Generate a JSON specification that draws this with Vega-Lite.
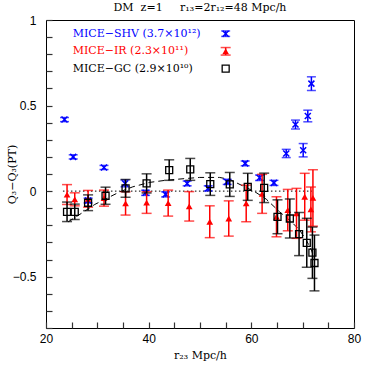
{
  "$schema": "https://vega.github.io/schema/vega-lite/v6.json",
  "width": 308,
  "height": 308,
  "autosize": {"type": "none"},
  "padding": {"left": 46, "top": 20, "right": 20, "bottom": 46},
  "background": "white",
  "title": {"text": "DM\u00a0\u00a0z=1\u00a0\u00a0\u00a0\u00a0\u00a0r₁₃=2r₁₂=48 Mpc/h", "font": "DejaVu Serif", "fontSize": 11, "fontWeight": "normal", "color": "black", "anchor": "middle", "offset": 1},
  "config": {"view": {"stroke": "black", "strokeWidth": 1}},
  "datasets": {
    "shv": [
      {"x": 23.6, "y": 0.418, "e": 0.012}, {"x": 25.3, "y": 0.2, "e": 0.012}, {"x": 28.2, "y": -0.055, "e": 0.014},
      {"x": 31.3, "y": 0.138, "e": 0.012}, {"x": 35.4, "y": 0.045, "e": 0.02}, {"x": 39.4, "y": -0.01, "e": 0.015},
      {"x": 43.3, "y": -0.019, "e": 0.015}, {"x": 47.5, "y": 0.045, "e": 0.014}, {"x": 51.6, "y": 0.016, "e": 0.015},
      {"x": 55.3, "y": 0.054, "e": 0.015}, {"x": 58.8, "y": 0.162, "e": 0.014}, {"x": 61.6, "y": 0.078, "e": 0.016},
      {"x": 64.4, "y": 0.048, "e": 0.015}, {"x": 66.8, "y": 0.22, "e": 0.024}, {"x": 68.6, "y": 0.389, "e": 0.026},
      {"x": 70.1, "y": 0.239, "e": 0.039}, {"x": 71.0, "y": 0.439, "e": 0.034}, {"x": 71.7, "y": 0.628, "e": 0.04}
    ],
    "ir": [
      {"x": 24.1, "y": -0.02, "e": 0.058}, {"x": 25.6, "y": -0.048, "e": 0.038}, {"x": 28.2, "y": -0.045, "e": 0.049},
      {"x": 31.3, "y": -0.041, "e": 0.047}, {"x": 35.5, "y": -0.072, "e": 0.068}, {"x": 39.6, "y": -0.067, "e": 0.063},
      {"x": 43.8, "y": -0.07, "e": 0.076}, {"x": 47.9, "y": -0.089, "e": 0.086}, {"x": 51.9, "y": -0.179, "e": 0.093},
      {"x": 55.6, "y": -0.16, "e": 0.103}, {"x": 59.0, "y": -0.072, "e": 0.107}, {"x": 62.1, "y": -0.016, "e": 0.114},
      {"x": 64.9, "y": -0.15, "e": 0.117}, {"x": 67.1, "y": -0.111, "e": 0.121}, {"x": 68.8, "y": -0.13, "e": 0.146},
      {"x": 70.4, "y": -0.033, "e": 0.137}, {"x": 71.6, "y": -0.107, "e": 0.131}, {"x": 72.0, "y": -0.04, "e": 0.165}
    ],
    "gc": [
      {"x": 24.1, "y": -0.121, "e": 0.057}, {"x": 25.6, "y": -0.121, "e": 0.045}, {"x": 28.2, "y": -0.068, "e": 0.046},
      {"x": 31.6, "y": -0.027, "e": 0.05}, {"x": 35.5, "y": 0.016, "e": 0.052}, {"x": 39.6, "y": 0.045, "e": 0.056},
      {"x": 44.0, "y": 0.123, "e": 0.06}, {"x": 48.1, "y": 0.127, "e": 0.064}, {"x": 52.0, "y": 0.041, "e": 0.066},
      {"x": 55.8, "y": 0.039, "e": 0.07}, {"x": 59.3, "y": 0.025, "e": 0.079}, {"x": 62.5, "y": 0.019, "e": 0.086},
      {"x": 65.1, "y": -0.15, "e": 0.099}, {"x": 67.5, "y": -0.16, "e": 0.114}, {"x": 69.3, "y": -0.251, "e": 0.126},
      {"x": 70.8, "y": -0.302, "e": 0.143}, {"x": 71.9, "y": -0.36, "e": 0.15}, {"x": 72.3, "y": -0.42, "e": 0.163}
    ],
    "model": [
      {"x": 24.3, "y": -0.18}, {"x": 26.9, "y": -0.13}, {"x": 29.5, "y": -0.078}, {"x": 31.8, "y": -0.043},
      {"x": 34.4, "y": -0.004}, {"x": 36.9, "y": 0.025}, {"x": 40.2, "y": 0.051}, {"x": 43.5, "y": 0.064},
      {"x": 47.4, "y": 0.074}, {"x": 49.9, "y": 0.08}, {"x": 53.8, "y": 0.08}, {"x": 55.8, "y": 0.068},
      {"x": 58.7, "y": 0.025}, {"x": 60.7, "y": -0.004}, {"x": 62.9, "y": -0.047}, {"x": 65.5, "y": -0.121},
      {"x": 67.8, "y": -0.179}, {"x": 69.4, "y": -0.228}, {"x": 70.7, "y": -0.286}, {"x": 71.7, "y": -0.344},
      {"x": 72.2, "y": -0.39}
    ],
    "zero": [{"x": 23.3, "y": 0}, {"x": 71.8, "y": 0}],
    "legend": [
      {"label": "MICE−SHV (3.7×10¹²)", "s": "SHV", "x": 25.2, "y": 0.92},
      {"label": "MICE−IR (2.3×10¹¹)", "s": "IR", "x": 25.2, "y": 0.817},
      {"label": "MICE−GC (2.9×10¹⁰)", "s": "GC", "x": 25.2, "y": 0.716}
    ],
    "legshv": [{"x": 55.0, "y": 0.92, "e": 0.016}],
    "legir": [{"x": 55.0, "y": 0.817, "e": 0.022}],
    "leggc": [{"x": 55.0, "y": 0.716}]
  },
  "encoding": {
    "x": {"field": "x", "type": "quantitative", "scale": {"domain": [20, 80], "nice": false, "zero": false},
      "axis": {"orient": "bottom", "values": [20, 25, 30, 35, 40, 45, 50, 55, 60, 65, 70, 75, 80], "format": "d",
        "labelExpr": "datum.value % 20 === 0 ? datum.label : ''",
        "tickSize": -6, "labelPadding": 11, "labelOverlap": false, "labelFlush": false,
        "domain": false, "grid": false, "tickColor": "#333333", "tickWidth": 1.2,
        "labelFont": "Liberation Sans", "labelFontSize": 12, "labelColor": "black",
        "title": "r₂₃ Mpc/h", "titleFont": "DejaVu Serif", "titleFontSize": 11, "titleFontWeight": "normal", "titleColor": "black",
        "titleX": 154, "titleY": 27, "titleAlign": "center", "titleBaseline": "middle"}},
    "y": {"field": "y", "type": "quantitative", "scale": {"domain": [-0.8, 1], "nice": false, "zero": false},
      "axis": {"orient": "left", "values": [-0.8, -0.7, -0.6, -0.5, -0.4, -0.3, -0.2, -0.1, 0, 0.1, 0.2, 0.3, 0.4, 0.5, 0.6, 0.7, 0.8, 0.9, 1], "format": ".1~f",
        "labelExpr": "abs(datum.value*2 - round(datum.value*2)) < 0.001 ? datum.label : ''",
        "tickSize": -6, "labelPadding": 16, "labelOverlap": false, "labelFlush": false,
        "domain": false, "grid": false, "tickColor": "#333333", "tickWidth": 1.2,
        "labelFont": "Liberation Sans", "labelFontSize": 12, "labelColor": "black",
        "title": "Q₃−Q₃(PT)", "titleFont": "DejaVu Serif", "titleFontSize": 11, "titleFontWeight": "normal", "titleColor": "black",
        "titleX": -34, "titleY": 154, "titleAngle": 270, "titleAlign": "center", "titleBaseline": "middle"}}
  },
  "layer": [
    {
      "data": {"name": "zero"},
      "mark": {"type": "line", "color": "black", "strokeWidth": 1, "strokeDash": [1.5, 2.5]}
    },
    {
      "data": {"name": "model"},
      "mark": {"type": "line", "color": "black", "strokeWidth": 1, "strokeDash": [6, 4]}
    },
    {
      "data": {"name": "shv"},
      "mark": {"type": "errorbar", "ticks": {"size": 9}, "color": "blue", "thickness": 1.5},
      "encoding": {"yError": {"field": "e"}}
    },
    {
      "data": {"name": "shv"},
      "mark": {"type": "point", "shape": "M-1,-1L1,1M-1,1L1,-1", "filled": false, "color": "blue", "strokeWidth": 1.5, "size": 36, "opacity": 1}
    },
    {
      "data": {"name": "ir"},
      "mark": {"type": "errorbar", "ticks": {"size": 10}, "color": "red", "thickness": 1.5},
      "encoding": {"yError": {"field": "e"}}
    },
    {
      "data": {"name": "ir"},
      "mark": {"type": "point", "shape": "triangle-up", "filled": true, "color": "red", "size": 45, "opacity": 1}
    },
    {
      "data": {"name": "gc"},
      "mark": {"type": "errorbar", "ticks": {"size": 10}, "color": "black", "thickness": 1.5},
      "encoding": {"yError": {"field": "e"}}
    },
    {
      "data": {"name": "gc"},
      "mark": {"type": "point", "shape": "square", "filled": false, "color": "black", "strokeWidth": 1.3, "size": 49, "opacity": 1}
    },
    {
      "data": {"name": "legend"},
      "mark": {"type": "text", "align": "left", "baseline": "middle", "font": "DejaVu Serif", "fontSize": 11},
      "encoding": {
        "text": {"field": "label"},
        "color": {"field": "s", "type": "nominal", "scale": {"domain": ["SHV", "IR", "GC"], "range": ["blue", "red", "black"]}, "legend": null}
      }
    },
    {
      "data": {"name": "legshv"},
      "mark": {"type": "errorbar", "ticks": {"size": 9}, "color": "blue", "thickness": 1.5},
      "encoding": {"yError": {"field": "e"}}
    },
    {
      "data": {"name": "legshv"},
      "mark": {"type": "point", "shape": "M-1,-1L1,1M-1,1L1,-1", "filled": false, "color": "blue", "strokeWidth": 1.5, "size": 36, "opacity": 1}
    },
    {
      "data": {"name": "legir"},
      "mark": {"type": "errorbar", "ticks": {"size": 10}, "color": "red", "thickness": 1.5},
      "encoding": {"yError": {"field": "e"}}
    },
    {
      "data": {"name": "legir"},
      "mark": {"type": "point", "shape": "triangle-up", "filled": true, "color": "red", "size": 45, "opacity": 1}
    },
    {
      "data": {"name": "leggc"},
      "mark": {"type": "point", "shape": "square", "filled": false, "color": "black", "strokeWidth": 1.3, "size": 49, "opacity": 1}
    }
  ]
}
